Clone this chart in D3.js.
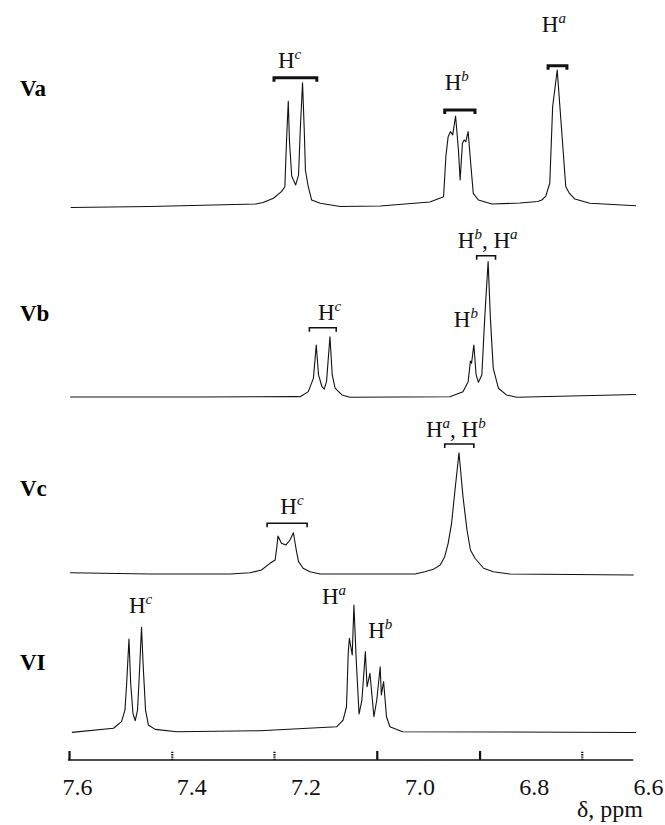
<!DOCTYPE html>
<html>
<head>
<meta charset="utf-8">
<script src="https://cdn.jsdelivr.net/npm/d3@7"></script>
<style>
body { margin: 0; background: #fff; }
svg { display: block; font-family: "Liberation Serif", "Times New Roman", serif; }
</style>
</head>
<body>
<script>
// spectra: [ppm, relative intensity]
var panels = ["Va", "Vb", "Vc", "VI"];

var spectrumVa = [
  [7.611,-0.4],[7.472,0.4],[7.287,2.2],[7.274,3.3],[7.256,6.4],[7.242,11.2],[7.236,14.8],
  [7.233,48.9],[7.230,77.2],[7.228,48.9],[7.224,22.6],[7.221,19.7],[7.217,16.1],[7.212,23.4],
  [7.209,56.2],[7.205,90.7],[7.202,56.2],[7.200,27.0],[7.195,14.8],[7.189,5.1],[7.174,2.7],
  [7.139,0.4],[7.069,0.7],[6.982,3.6],[6.958,7.5],[6.954,36.7],[6.950,51.3],[6.946,55.0],
  [6.942,52.6],[6.937,66.4],[6.932,41.6],[6.929,19.7],[6.925,46.5],[6.922,48.9],[6.919,47.7],
  [6.915,55.0],[6.911,34.3],[6.906,10.0],[6.897,5.1],[6.873,2.2],[6.824,2.9],[6.793,4.0],
  [6.786,5.1],[6.779,8.0],[6.772,17.5],[6.767,73.2],[6.759,100],[6.744,14.8],[6.738,10.2],
  [6.728,5.8],[6.702,2.7],[6.621,0.9]
];

var spectrumVb = [
  [7.612,0],[7.385,0],[7.216,0.4],[7.209,0.2],[7.195,3.9],[7.186,13.6],[7.181,38.0],
  [7.177,16.1],[7.171,7.5],[7.167,5.8],[7.163,11.2],[7.157,44.0],[7.153,16.1],[7.148,6.4],
  [7.136,1.5],[7.122,-0.2],[6.947,0.2],[6.924,3.9],[6.915,11.2],[6.911,26.3],[6.909,24.6],
  [6.905,38.0],[6.901,16.1],[6.897,10.7],[6.891,16.1],[6.886,57.4],[6.880,98.8],[6.876,57.4],
  [6.871,20.9],[6.862,6.4],[6.848,1.5],[6.830,-0.2],[6.621,1.8]
];

var spectrumVc = [
  [7.612,0.9],[7.472,0],[7.332,0],[7.297,0.9],[7.277,2.9],[7.262,7.8],[7.253,10.2],
  [7.250,19.9],[7.248,27.7],[7.242,22.4],[7.234,21.2],[7.227,24.8],[7.221,30.1],[7.216,17.5],
  [7.212,9.0],[7.204,4.2],[7.192,1.7],[7.174,0],[7.008,0],[6.991,1.7],[6.976,3.4],
  [6.964,6.6],[6.956,12.6],[6.950,22.4],[6.944,37.0],[6.938,61.3],[6.931,88.5],[6.924,56.4],
  [6.917,32.1],[6.911,17.5],[6.903,11.5],[6.888,4.2],[6.871,1.7],[6.842,0],[6.625,-0.7]
];

var spectrumVI = [
  [7.609,0.1],[7.536,3.1],[7.522,7.9],[7.516,16.4],[7.513,35.9],[7.509,68.2],[7.506,35.9],
  [7.502,14.0],[7.498,8.6],[7.494,16.4],[7.491,40.7],[7.487,76.8],[7.484,48.0],[7.480,16.4],
  [7.475,5.5],[7.463,2.3],[7.425,0.6],[7.280,1.3],[7.145,4.2],[7.134,9.1],[7.128,18.8],
  [7.125,57.8],[7.123,68.8],[7.118,56.6],[7.115,93.1],[7.111,52.9],[7.106,13.5],[7.101,23.7],
  [7.095,59.0],[7.092,33.4],[7.087,43.2],[7.080,11.5],[7.075,23.7],[7.069,48.0],[7.067,27.4],
  [7.063,37.1],[7.058,11.5],[7.052,4.2],[7.030,0.6],[6.621,0]
];

var tickLabels = [7.6, 7.4, 7.2, 7.0, 6.8, 6.6];
var tickMarks = [7.614, 7.434, 7.255, 7.075, 6.895, 6.716];
var axisExtent = [7.616, 6.626];

// peak labels: text parts [text, superscript], label start (ppm, intensity), bracket [ppm1, ppm2, intensity]
var annotations = [
  {panel: "Va", parts: [["H",0],["c",1]], ppm: 7.248, at: 101.5, bracket: [7.255, 7.180, 94.4]},
  {panel: "Va", parts: [["H",0],["b",1]], ppm: 6.956, at: 85.4, bracket: [6.956, 6.903, 70.8]},
  {panel: "Va", parts: [["H",0],["a",1]], ppm: 6.786, at: 127.7, bracket: [6.775, 6.742, 103.1]},
  {panel: "Vb", parts: [["H",0],["c",1]], ppm: 7.178, at: 56.2, bracket: [7.193, 7.146, 50.6]},
  {panel: "Vb", parts: [["H",0],["b",1]], ppm: 6.940, at: 51.3, bracket: null},
  {panel: "Vb", parts: [["H",0],["b",1],[", H",0],["a",1]], ppm: 6.933, at: 108.8, bracket: [6.900, 6.867, 103.1]},
  {panel: "Vc", parts: [["H",0],["c",1]], ppm: 7.244, at: 43.8, bracket: [7.267, 7.197, 37.0]},
  {panel: "Vc", parts: [["H",0],["a",1],[", H",0],["b",1]], ppm: 6.989, at: 100, bracket: [6.956, 6.905, 94.9]},
  {panel: "VI", parts: [["H",0],["c",1]], ppm: 7.509, at: 87.2, bracket: null},
  {panel: "VI", parts: [["H",0],["a",1]], ppm: 7.171, at: 93.8, bracket: null},
  {panel: "VI", parts: [["H",0],["b",1]], ppm: 7.090, at: 69.0, bracket: null}
];

var spectra = {Va: spectrumVa, Vb: spectrumVb, Vc: spectrumVc, VI: spectrumVI};

var width = 665, height = 825;
var baseY = {Va: 207, Vb: 397, Vc: 574, VI: 732.5};
var nameY = {Va: 96, Vb: 321, Vc: 496, VI: 670};
var axisY = 760;

var x = d3.scaleLinear().domain([7.6, 6.6]).range([77, 648]);
var y = d3.scaleLinear().domain([0, 100]).range([0, -137]);

var line = d3.line()
    .x(function(d) { return x(d[0]); })
    .y(function(d) { return y(d[1]); });

var svg = d3.select("body").append("svg")
    .attr("width", width)
    .attr("height", height);

panels.forEach(function(p) {
    var g = svg.append("g").attr("transform", "translate(0," + baseY[p] + ")");

    g.append("path")
        .datum(spectra[p])
        .attr("d", line)
        .attr("fill", "none")
        .attr("stroke", "#111")
        .attr("stroke-width", 1.1)
        .attr("stroke-linejoin", "round");

    svg.append("text")
        .attr("x", 20)
        .attr("y", nameY[p])
        .attr("font-size", 23)
        .attr("font-weight", "bold")
        .text(p);

    annotations.filter(function(a) { return a.panel == p; }).forEach(function(a) {
        var t = g.append("text")
            .attr("x", x(a.ppm))
            .attr("y", y(a.at))
            .attr("font-size", 23)
            .attr("fill", "#111");
        var up = false;
        a.parts.forEach(function(part) {
            var s = t.append("tspan").text(part[0]);
            if (part[1]) {
                s.attr("font-style", "italic").attr("font-size", 15);
                if (!up) s.attr("dy", -9);
                up = true;
            } else if (up) {
                s.attr("dy", 9);
                up = false;
            }
        });
        if (a.bracket) {
            var x1 = x(a.bracket[0]), x2 = x(a.bracket[1]), yb = y(a.bracket[2]);
            g.append("path")
                .attr("d", "M" + x1 + "," + (yb + 4) + "V" + yb + "H" + x2 + "V" + (yb + 4))
                .attr("fill", "none")
                .attr("stroke", "#111")
                .attr("stroke-width", p == "Va" ? 3 : 1.6);
        }
    });
});

// axis
var ax = svg.append("g").attr("transform", "translate(0," + axisY + ")");

ax.append("line")
    .attr("x1", x(axisExtent[0]))
    .attr("x2", x(axisExtent[1]))
    .attr("stroke", "#111")
    .attr("stroke-width", 1.5);

var marks = ax.append("g")
    .call(d3.axisBottom(x).tickValues(tickMarks).tickSize(-9).tickFormat(""));
marks.select(".domain").remove();
marks.selectAll(".tick line")
    .attr("stroke", "#111")
    .attr("stroke-width", 2.2)
    .attr("stroke-dasharray", function(d, i) { return (i == 1 || i == 2 || i == 5) ? "1.3,1" : null; });

var labels = ax.append("g")
    .call(d3.axisBottom(x).tickValues(tickLabels).tickSize(0).tickFormat(d3.format(".1f")));
labels.select(".domain").remove();
labels.selectAll("text")
    .attr("y", 35)
    .attr("dy", null)
    .attr("fill", "#111")
    .attr("font-size", 24)
    .attr("font-family", "Liberation Serif, serif");

svg.append("text")
    .attr("x", 643)
    .attr("y", 817)
    .attr("text-anchor", "end")
    .attr("font-size", 24)
    .attr("fill", "#111")
    .text("δ, ppm");
</script>
</body>
</html>
